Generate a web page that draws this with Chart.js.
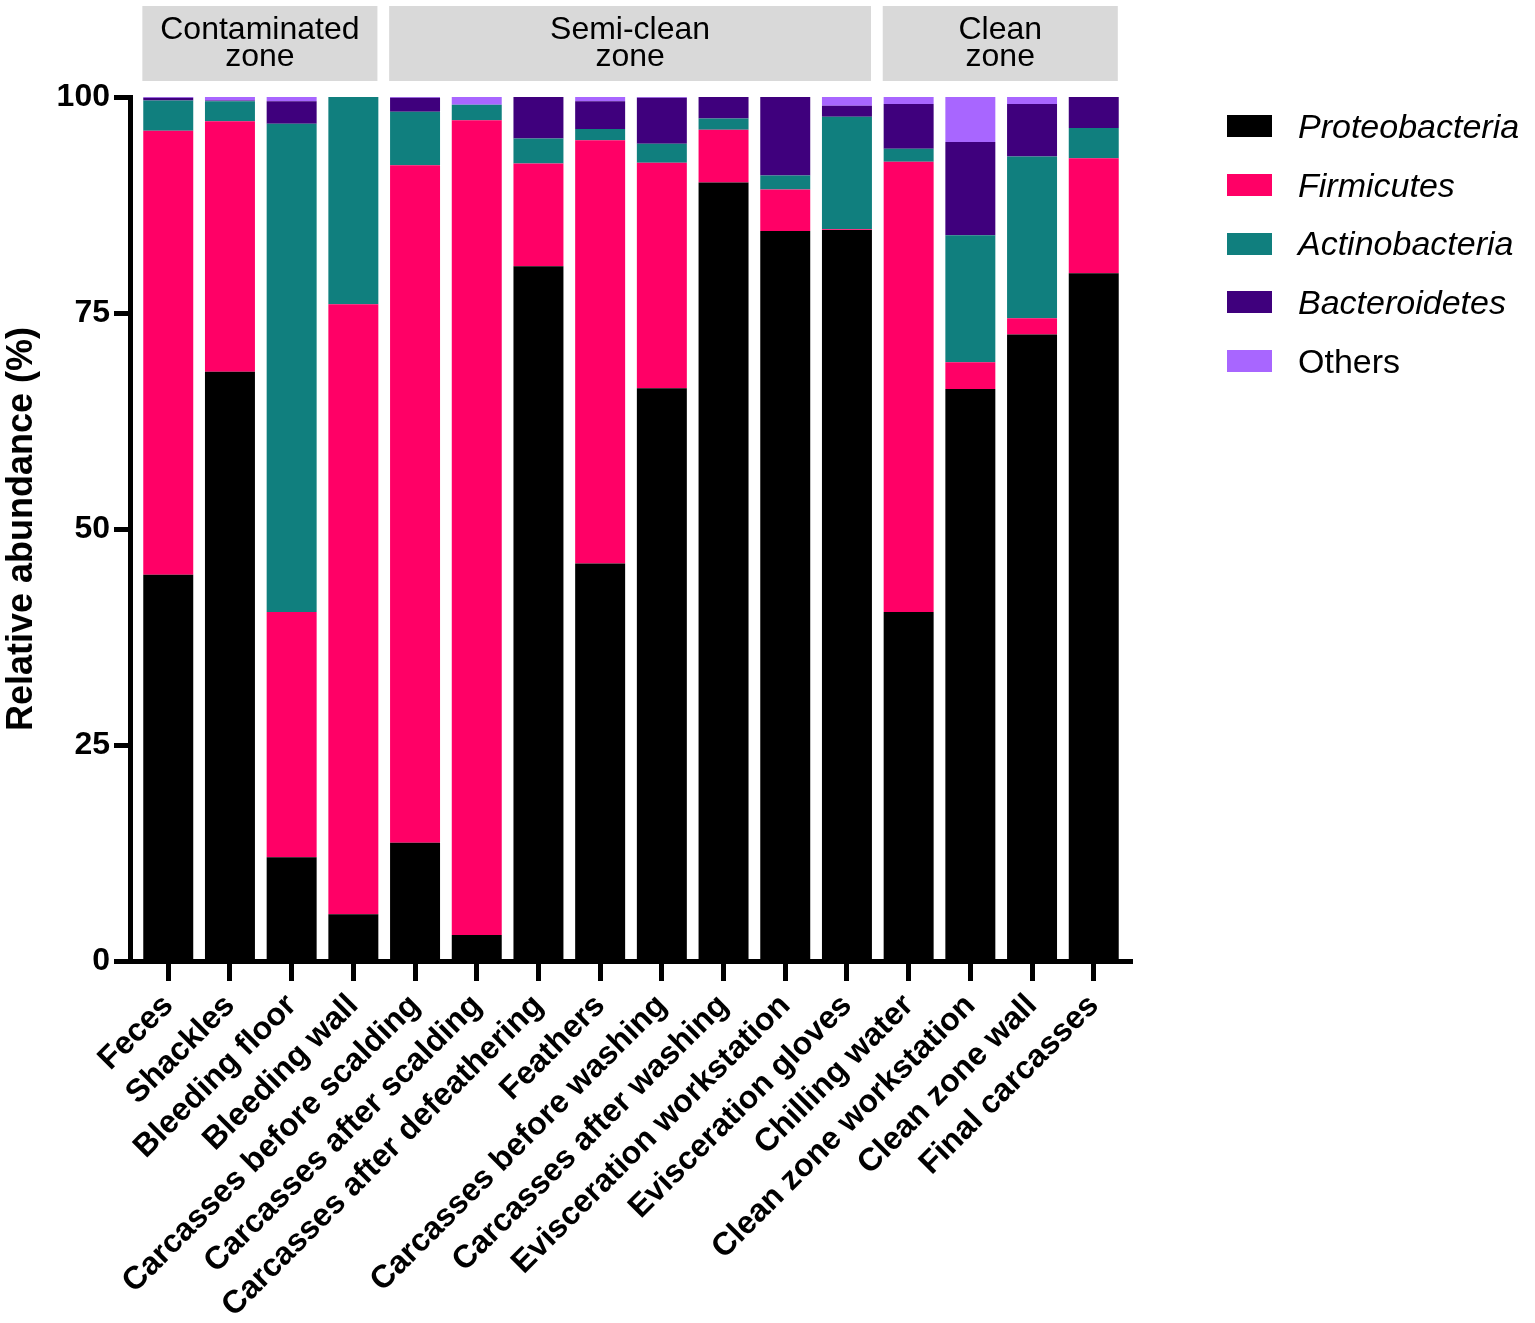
<!DOCTYPE html>
<html>
<head>
<meta charset="utf-8">
<script src="https://cdn.jsdelivr.net/npm/chart.js@4.4.1/dist/chart.umd.min.js"></script>
<style>
  body { margin: 0; background: #fff; }
  #wrap { position: relative; width: 1535px; height: 1323px; }
  #legend { position: absolute; left: 1227px; top: 97px; font-family: "Liberation Sans", Arial, sans-serif; font-size: 34px; color: #000; }
  .item { display: flex; align-items: center; height: 58.7px; white-space: nowrap; }
  .swatch { width: 45px; height: 22px; margin-right: 26px; flex: none; }
</style>
</head>
<body>
<div id="wrap">
  <canvas id="chart" width="1535" height="1323"></canvas>
  <div id="legend"></div>
</div>
<script>
const FONT = '"Liberation Sans", Arial, sans-serif';

const categories = [
  'Feces', 'Shackles', 'Bleeding floor', 'Bleeding wall',
  'Carcasses before scalding', 'Carcasses after scalding', 'Carcasses after defeathering',
  'Feathers', 'Carcasses before washing', 'Carcasses after washing',
  'Evisceration workstation', 'Evisceration gloves', 'Chilling water',
  'Clean zone workstation', 'Clean zone wall', 'Final carcasses'
];

// relative abundance (%) per phylum, one value per sample
const proteobacteria = [44.7, 68.2, 12.0, 5.4, 13.7, 3.0, 80.4, 46.0, 66.3, 90.1, 84.5, 84.6, 40.4, 66.2, 72.5, 79.6];
const firmicutes     = [51.4, 29.0, 28.4, 70.6, 78.4, 94.3, 11.9, 49.0, 26.1, 6.1, 4.8, 0.1, 52.1, 3.1, 1.9, 13.3];
const actinobacteria = [3.5, 2.3, 56.5, 24.0, 6.2, 1.8, 2.9, 1.3, 2.2, 1.3, 1.6, 13.0, 1.5, 14.7, 18.7, 3.5];
const bacteroidetes  = [0.3, 0.1, 2.6, 0.0, 1.6, 0.0, 4.8, 3.2, 5.3, 2.5, 9.1, 1.3, 5.2, 10.8, 6.1, 3.6];
const others         = [0.1, 0.4, 0.5, 0.0, 0.1, 0.9, 0.0, 0.5, 0.1, 0.0, 0.0, 1.0, 0.8, 5.2, 0.8, 0.0];

const yTicks = [0, 25, 50, 75, 100];

const zoneLabels = [['Contaminated', 'zone'], ['Semi-clean', 'zone'], ['Clean', 'zone']];
const zoneStart = [0, 4, 12];
const zoneEnd = [3, 11, 15];

const series = [
  { label: 'Proteobacteria', data: proteobacteria, color: '#000000', italic: true },
  { label: 'Firmicutes', data: firmicutes, color: '#ff0066', italic: true },
  { label: 'Actinobacteria', data: actinobacteria, color: '#107f7e', italic: true },
  { label: 'Bacteroidetes', data: bacteroidetes, color: '#3f007d', italic: true },
  { label: 'Others', data: others, color: '#a866ff', italic: false }
];

// grey zone headers above the bars
const zonePlugin = {
  id: 'zones',
  beforeDraw(chart) {
    const ctx = chart.ctx;
    const x = chart.scales.x;
    ctx.save();
    zoneLabels.forEach((lines, k) => {
      const l = x.getPixelForValue(zoneStart[k] - 0.42);
      const r = x.getPixelForValue(zoneEnd[k] + 0.39);
      ctx.fillStyle = '#d9d9d9';
      ctx.fillRect(l, 6, r - l, 75);
      ctx.fillStyle = '#000';
      ctx.font = '32px ' + FONT;
      ctx.textAlign = 'center';
      ctx.textBaseline = 'middle';
      lines.forEach((t, n) => ctx.fillText(t, (l + r) / 2, 30 + n * 27));
    });
    ctx.restore();
  }
};

new Chart(document.getElementById('chart'), {
  type: 'bar',
  data: {
    datasets: series.map(s => ({
      label: s.label,
      data: s.data.map((v, i) => ({ x: i, y: v })),
      backgroundColor: s.color,
      borderWidth: 0,
      barPercentage: 0.81,
      categoryPercentage: 1
    }))
  },
  options: {
    responsive: false,
    animation: false,
    layout: { padding: { top: 97, right: 403, left: 0, bottom: 0 } },
    plugins: { legend: { display: false }, tooltip: { enabled: false } },
    scales: {
      x: {
        type: 'linear',
        min: -0.62,
        max: 15.62,
        offset: false,
        stacked: true,
        afterFit: s => { s.height = 362; },
        border: { display: true, color: '#000', width: 5 },
        grid: { offset: false, drawOnChartArea: false, drawTicks: true, tickLength: 20, tickWidth: 5, tickColor: '#000', color: '#000' },
        ticks: {
          stepSize: 1,
          includeBounds: false,
          autoSkip: false,
          minRotation: 45,
          maxRotation: 45,
          padding: 6,
          color: '#000',
          font: { family: FONT, size: 32, weight: 'bold' },
          callback: v => categories[v]
        }
      },
      y: {
        stacked: true,
        min: 0,
        max: 100,
        afterFit: s => { s.width = 130; },
        afterBuildTicks: s => { s.ticks = yTicks.map(v => ({ value: v })); },
        border: { display: true, color: '#000', width: 5 },
        grid: { drawOnChartArea: false, drawTicks: true, tickLength: 16, tickWidth: 5, tickColor: '#000', color: '#000' },
        ticks: { padding: 4, color: '#000', font: { family: FONT, size: 32, weight: 'bold' } },
        title: {
          display: true,
          text: 'Relative abundance (%)',
          color: '#000',
          font: { family: FONT, size: 36, weight: 'bold' },
          padding: { top: 0, bottom: 0 }
        }
      }
    }
  },
  plugins: [zonePlugin]
});

// legend with italic phylum names
const legend = document.getElementById('legend');
series.forEach(s => {
  const item = document.createElement('div');
  item.className = 'item';
  const sw = document.createElement('span');
  sw.className = 'swatch';
  sw.style.background = s.color;
  const txt = document.createElement('span');
  txt.textContent = s.label;
  txt.style.fontStyle = s.italic ? 'italic' : 'normal';
  item.appendChild(sw);
  item.appendChild(txt);
  legend.appendChild(item);
});
</script>
</body>
</html>
